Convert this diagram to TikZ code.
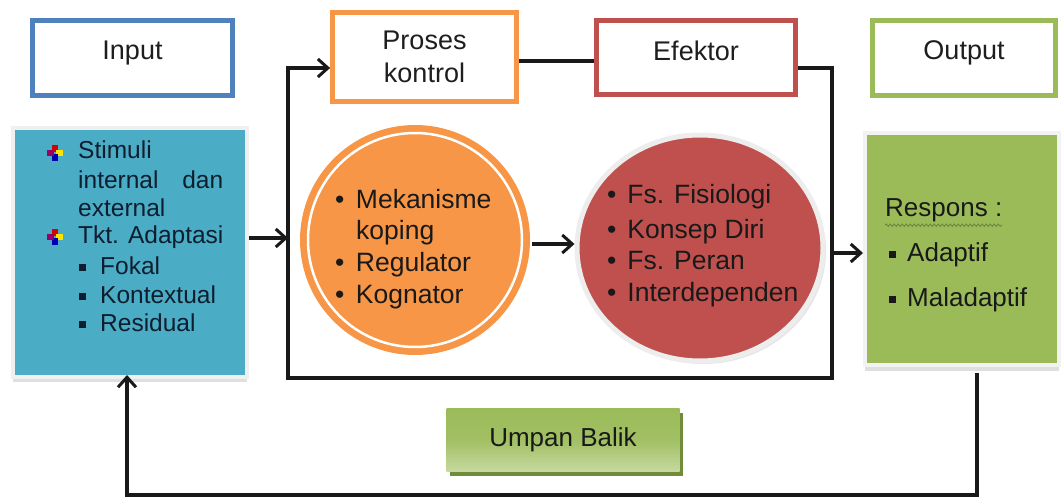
\documentclass[tikz,border=0pt]{standalone}
\usepackage{fontspec}
\setmainfont{Liberation Sans}
\usetikzlibrary{arrows.meta,shadows,decorations.pathmorphing,calc,shapes.geometric}
\definecolor{cblue}{HTML}{4BACC6}
\definecolor{cblueb}{HTML}{4F81BD}
\definecolor{corange}{HTML}{F79646}
\definecolor{cred}{HTML}{C0504D}
\definecolor{cgreen}{HTML}{9BBB59}
\definecolor{cgreenl}{HTML}{C6D9A0}
\definecolor{cgreend}{HTML}{6F8C3A}
\definecolor{ctext}{HTML}{1E1E1E}
\definecolor{cnavy}{HTML}{0F1E2E}
\newcommand{\sqbul}{\rule[3.2pt]{7pt}{7pt}}
\begin{document}
\begin{tikzpicture}[x=1pt,y=-1pt,
  conn/.style={line width=3.2pt, draw=black!90},
  arr/.style={conn, -{Straight Barb[length=10pt,width=18pt,line width=3pt]}},
  topbox/.style={draw, line width=4.8pt, fill=white, text=ctext,
     font=\fontsize{27}{33}\selectfont, align=center, inner sep=0pt},
  ln/.style={anchor=west, inner sep=0pt, text height=18pt, text depth=6pt},
  blueln/.style={ln, text=cnavy, font=\fontsize{24.5}{29}\selectfont},
  circln/.style={ln, text=black!90, font=\fontsize{26.5}{32}\selectfont},
  outln/.style={ln, text=black!90, font=\fontsize{26}{32}\selectfont},
]
\useasboundingbox (0,0) rectangle (1063,500);

% top boxes
\node[topbox, draw=cblueb, minimum width=200pt, minimum height=75pt,
      text height=20pt, text depth=16pt] (inp) at (132.5,58) {Input};
\node[topbox, draw=corange, minimum width=184pt, minimum height=89pt] (pro) at (424.5,57) {Proses\\kontrol};
\node[topbox, draw=cred, minimum width=199pt, minimum height=74pt,
      text height=20pt, text depth=14pt] (efe) at (696,57.5) {Efektor};
\node[topbox, draw=cgreen, minimum width=183pt, minimum height=75pt,
      text height=20pt, text depth=16pt] (out) at (964,58) {Output};

% big boxes
\node[draw=black!6, line width=4pt, fill=cblue, minimum width=234pt, minimum height=249pt,
      drop shadow={shadow xshift=0pt, shadow yshift=-5pt, opacity=0.25}] (blu) at (130,252.5) {};
\node[draw=black!5, line width=4pt, fill=cgreen, minimum width=194pt, minimum height=232pt,
      drop shadow={shadow xshift=0pt, shadow yshift=-6pt, opacity=0.25}] (grn) at (962,249) {};

% circles
\node[circle, fill=corange, minimum size=230pt, inner sep=0pt] (org) at (415,240) {};
\draw[white, line width=2.5pt] (org.center) circle[radius=107];
\node[ellipse, fill=cred, draw=black!7, line width=5pt, minimum width=246pt, minimum height=226pt,
      inner sep=0pt, drop shadow={shadow xshift=3pt, shadow yshift=-3pt, opacity=0.2}] (red) at (700,248) {};

% feedback box
\node[minimum width=233pt, minimum height=63pt, top color=cgreen, bottom color=cgreenl,
      middle color=cgreen!85!cgreenl, text=black!90, font=\fontsize{26}{30}\selectfont,
      drop shadow={shadow xshift=3pt, shadow yshift=-4pt, opacity=1, fill=cgreend}] (umb) at (563,440) {Umpan Balik};

% frame coordinates
\coordinate (ftl) at (288,68);
\coordinate (ftr) at (832,68);
\coordinate (fbl) at (288,378);
\coordinate (fbr) at (832,378);
\coordinate (kbr) at (977,495);
\coordinate (kbl) at (127,495);

% connectors
\draw[conn] (pro.east |- 0,61) -- (efe.west |- 0,61);
\draw[arr] (efe.east |- ftr) -- (ftr) -- (fbr) -- (fbl) -- (ftl) -- (pro.west |- ftl);
\draw[arr] (blu.east |- 0,238) -- (ftl |- 0,238);
\draw[arr] (org.east |- 0,244) ++(2,0) -- (red.west |- 0,244);
\draw[arr] (ftr |- 0,253) -- (grn.west |- 0,253);
\draw[arr, shorten >=-4pt] (grn.south -| kbr) ++(0,6) -- (kbr) -- (kbl) -- (blu.south -| kbl);

% icon bullets
\foreach \n/\cy in {ia/153, ib/237}{
  \coordinate (\n) at (55,\cy);
  \fill[red!85!black] ($(\n)+(-3,-8)$) rectangle ($(\n)+(3,-1)$);
  \fill[yellow!85!orange] ($(\n)+(1,-3)$) rectangle ($(\n)+(8,3)$);
  \fill[blue!70!black] ($(\n)+(-3,1)$) rectangle ($(\n)+(3,8)$);
  \fill[violet!80!red] ($(\n)+(-8,-3)$) rectangle ($(\n)+(-1,3)$);
}

% blue box text
\node[blueln] (t1) at (78,153) {Stimuli};
\node[blueln] (t2) at (78,182) {\hbox to 145pt{internal\hfill dan}};
\node[blueln] (t3) at (78,210) {external};
\node[blueln] (t4) at (78,237) {Tkt. Adaptasi};
\node[blueln] (t5) at (79,268) {\sqbul\hspace{14pt}Fokal};
\node[blueln] (t6) at (79,297) {\sqbul\hspace{14pt}Kontextual};
\node[blueln] (t7) at (79,325) {\sqbul\hspace{14pt}Residual};

% orange circle text
\node[circln] (o1) at (335,202) {•\hspace{11.5pt}Mekanisme};
\node[circln] (o2) at (356,233) {koping};
\node[circln] (o3) at (335,265) {•\hspace{11.5pt}Regulator};
\node[circln] (o4) at (335,297) {•\hspace{11.5pt}Kognator};

% red circle text
\node[circln] (r1) at (607,198) {•\hspace{11pt}Fs. Fisiologi};
\node[circln] (r2) at (607,232) {•\hspace{11pt}Konsep Diri};
\node[circln] (r3) at (607,263) {•\hspace{11pt}Fs. Peran};
\node[circln] (r4) at (607,295) {•\hspace{11pt}Interdependen};

% output text
\node[outln] (p0) at (885,210) {Respons :};
\draw[cgreen!70!black, line width=0.8pt, decorate, decoration={snake, amplitude=1.2pt, segment length=4pt}]
  ($(p0.south west)+(0,3)$) -- ($(p0.south east)+(0,3)$);
\node[outln] (p1) at (889,255) {\sqbul\hspace{11pt}Adaptif};
\node[outln] (p2) at (889,300) {\sqbul\hspace{11pt}Maladaptif};
\end{tikzpicture}
\end{document}
